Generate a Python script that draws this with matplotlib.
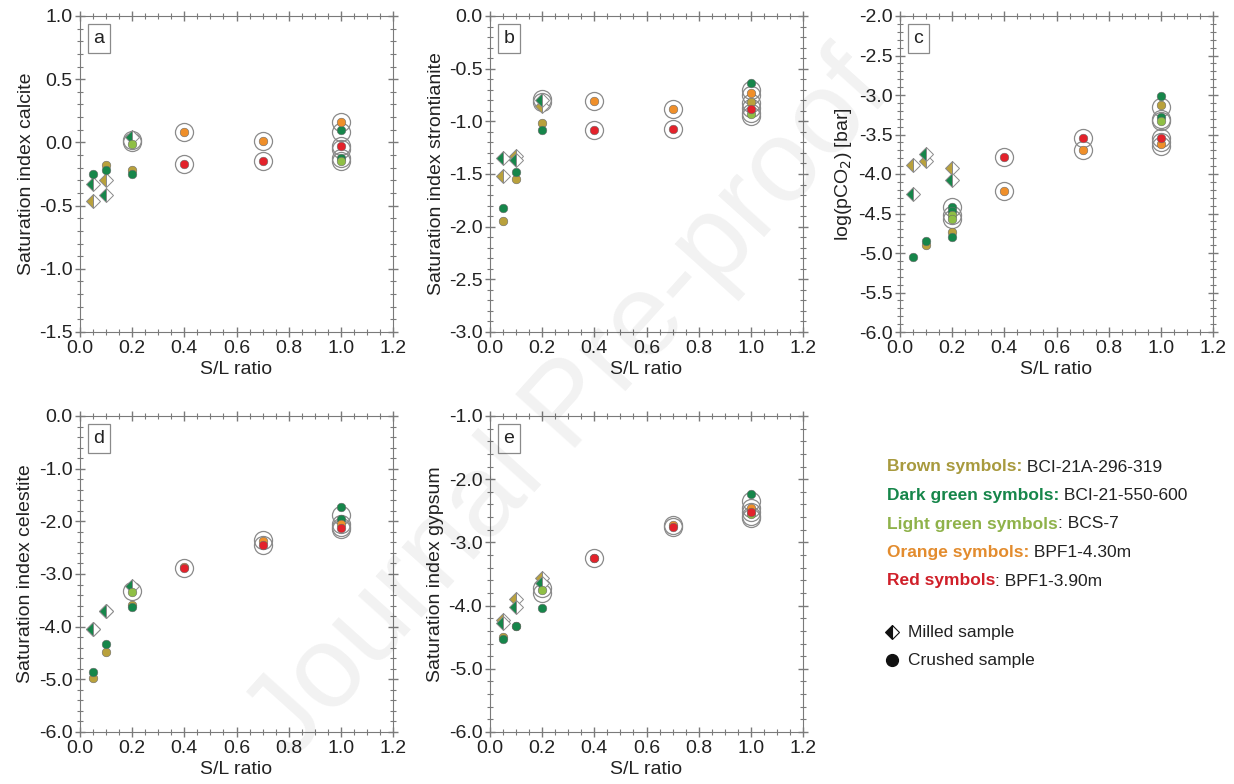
import matplotlib
matplotlib.use('Agg')
import matplotlib.pyplot as plt
from matplotlib.lines import Line2D
from matplotlib.ticker import MultipleLocator

plt.rcParams['font.family'] = ['Liberation Sans', 'DejaVu Sans']
plt.rcParams['axes.unicode_minus'] = False

colors = {
    'brown': '#b9a13c',
    'dgreen': '#16864a',
    'lgreen': '#8fbf45',
    'orange': '#ef8f2a',
    'red': '#e3222b',
}

# (S/L ratio, value, sample) -- crushed samples
calcite_crushed = [(0.1, -0.18, 'brown'), (0.2, -0.22, 'brown'),
                   (0.05, -0.25, 'dgreen'), (0.1, -0.22, 'dgreen'), (0.2, -0.25, 'dgreen'),
                   (1.0, 0.10, 'dgreen'), (1.0, -0.12, 'dgreen'),
                   (0.2, -0.01, 'lgreen'), (1.0, -0.15, 'lgreen'),
                   (0.4, 0.08, 'orange'), (0.7, 0.01, 'orange'), (1.0, 0.16, 'orange'),
                   (0.4, -0.17, 'red'), (0.7, -0.15, 'red'), (1.0, -0.03, 'red')]
calcite_milled = [(0.05, -0.46, 'brown'), (0.1, -0.30, 'brown'),
                  (0.05, -0.33, 'dgreen'), (0.1, -0.42, 'dgreen'), (0.2, 0.04, 'dgreen')]
calcite_rings = [(0.2, 0.0), (0.2, 0.02), (0.4, 0.08), (0.4, -0.17), (0.7, 0.01), (0.7, -0.15),
                 (1.0, 0.16), (1.0, 0.08), (1.0, -0.03), (1.0, -0.05), (1.0, -0.12), (1.0, -0.15)]

stront_crushed = [(0.05, -1.95, 'brown'), (0.1, -1.55, 'brown'), (0.2, -1.02, 'brown'),
                  (0.05, -1.82, 'dgreen'), (0.1, -1.48, 'dgreen'), (0.2, -1.08, 'dgreen'),
                  (1.0, -0.64, 'dgreen'), (1.0, -0.82, 'brown'),
                  (1.0, -0.93, 'lgreen'),
                  (0.4, -0.81, 'orange'), (0.7, -0.88, 'orange'), (1.0, -0.73, 'orange'),
                  (0.4, -1.08, 'red'), (0.7, -1.07, 'red'), (1.0, -0.88, 'red')]
stront_milled = [(0.05, -1.52, 'brown'), (0.1, -1.33, 'brown'), (0.2, -0.85, 'brown'),
                 (0.05, -1.35, 'dgreen'), (0.1, -1.37, 'dgreen'), (0.2, -0.80, 'dgreen')]
stront_rings = [(0.2, -0.79), (0.2, -0.82), (0.4, -0.81), (0.4, -1.08), (0.7, -0.88), (0.7, -1.07),
                (1.0, -0.70), (1.0, -0.75), (1.0, -0.83), (1.0, -0.87), (1.0, -0.92), (1.0, -0.95)]

pco2_crushed = [(0.1, -4.90, 'brown'), (0.2, -4.74, 'brown'), (1.0, -3.13, 'brown'),
                (0.05, -5.05, 'dgreen'), (0.1, -4.85, 'dgreen'), (0.2, -4.42, 'dgreen'),
                (0.2, -4.47, 'dgreen'), (0.2, -4.80, 'dgreen'), (1.0, -3.01, 'dgreen'), (1.0, -3.28, 'dgreen'),
                (0.2, -4.52, 'lgreen'), (0.2, -4.57, 'lgreen'), (1.0, -3.33, 'lgreen'),
                (0.4, -4.21, 'orange'), (0.7, -3.70, 'orange'), (1.0, -3.62, 'orange'),
                (0.4, -3.79, 'red'), (0.7, -3.54, 'red'), (1.0, -3.55, 'red')]
pco2_milled = [(0.05, -3.88, 'brown'), (0.1, -3.83, 'brown'), (0.2, -3.92, 'brown'),
               (0.05, -4.25, 'dgreen'), (0.1, -3.75, 'dgreen'), (0.2, -4.07, 'dgreen')]
pco2_rings = [(0.2, -4.42), (0.2, -4.52), (0.2, -4.57), (0.4, -3.79), (0.4, -4.21), (0.7, -3.54),
              (0.7, -3.70), (1.0, -3.15), (1.0, -3.30), (1.0, -3.33), (1.0, -3.55), (1.0, -3.60), (1.0, -3.65)]

celest_crushed = [(0.05, -4.97, 'brown'), (0.1, -4.48, 'brown'), (0.2, -3.58, 'brown'),
                  (0.05, -4.87, 'dgreen'), (0.1, -4.33, 'dgreen'), (0.2, -3.62, 'dgreen'),
                  (1.0, -1.72, 'dgreen'), (1.0, -1.95, 'dgreen'),
                  (0.2, -3.35, 'lgreen'),
                  (0.4, -2.87, 'orange'), (0.7, -2.38, 'orange'), (1.0, -2.05, 'orange'),
                  (0.4, -2.88, 'red'), (0.7, -2.45, 'red'), (1.0, -2.13, 'red')]
celest_milled = [(0.05, -4.05, 'brown'), (0.1, -3.70, 'brown'),
                 (0.05, -4.05, 'dgreen'), (0.1, -3.70, 'dgreen'), (0.2, -3.22, 'dgreen')]
celest_rings = [(0.2, -3.32), (0.4, -2.88), (0.7, -2.35), (0.7, -2.45),
                (1.0, -1.88), (1.0, -2.05), (1.0, -2.10), (1.0, -2.15)]

gypsum_crushed = [(0.05, -4.50, 'brown'), (0.1, -4.33, 'brown'),
                  (0.05, -4.53, 'dgreen'), (0.1, -4.32, 'dgreen'), (0.2, -4.04, 'dgreen'),
                  (1.0, -2.23, 'dgreen'),
                  (0.2, -3.76, 'lgreen'), (1.0, -2.55, 'lgreen'),
                  (0.4, -3.24, 'orange'), (0.7, -2.72, 'orange'), (1.0, -2.45, 'orange'),
                  (0.4, -3.25, 'red'), (0.7, -2.76, 'red'), (1.0, -2.52, 'red')]
gypsum_milled = [(0.05, -4.22, 'brown'), (0.1, -3.90, 'brown'), (0.2, -3.57, 'brown'),
                 (0.05, -4.28, 'dgreen'), (0.1, -4.02, 'dgreen'), (0.2, -3.65, 'dgreen')]
gypsum_rings = [(0.2, -3.72), (0.2, -3.80), (0.4, -3.24), (0.7, -2.72), (0.7, -2.76),
                (1.0, -2.35), (1.0, -2.45), (1.0, -2.52), (1.0, -2.58), (1.0, -2.62)]

# coloured heading, sample name, heading colour
legend_rows = [('Brown symbols:', ' BCI-21A-296-319', '#a89a3e'),
               ('Dark green symbols:', ' BCI-21-550-600', '#16864a'),
               ('Light green symbols', ': BCS-7', '#8fb24a'),
               ('Orange symbols:', ' BPF1-4.30m', '#e38c2e'),
               ('Red symbols', ': BPF1-3.90m', '#d0202a')]

# letter, ylabel, ylim, major, minor, data, axes position in pixels (left, top)
panels = [
    ('a', 'Saturation index calcite', (-1.5, 1.0), 0.5, 0.1,
     calcite_crushed, calcite_milled, calcite_rings, (80, 16)),
    ('b', 'Saturation index strontianite', (-3.0, 0.0), 0.5, 0.1,
     stront_crushed, stront_milled, stront_rings, (490, 16)),
    ('c', 'log(pCO$_2$) [bar]', (-6.0, -2.0), 0.5, 0.1,
     pco2_crushed, pco2_milled, pco2_rings, (900, 16)),
    ('d', 'Saturation index celestite', (-6.0, 0.0), 1.0, 0.2,
     celest_crushed, celest_milled, celest_rings, (80, 416)),
    ('e', 'Saturation index gypsum', (-6.0, -1.0), 1.0, 0.2,
     gypsum_crushed, gypsum_milled, gypsum_rings, (490, 416)),
]

W, H = 1234, 784
fig = plt.figure(figsize=(W / 100, H / 100), dpi=100)
spine_col = '#7a7a7a'
text_col = '#222222'

for letter, ylabel, ylim, major, minor, crushed, milled, rings, (px, py) in panels:
    ax = fig.add_axes([px / W, 1 - (py + 316) / H, 313 / W, 316 / H])
    ax.set_xlim(0, 1.2)
    ax.set_ylim(*ylim)
    ax.xaxis.set_major_locator(MultipleLocator(0.2))
    ax.xaxis.set_minor_locator(MultipleLocator(0.05))
    ax.yaxis.set_major_locator(MultipleLocator(major))
    ax.yaxis.set_minor_locator(MultipleLocator(minor))
    ax.xaxis.set_major_formatter('{x:.1f}')
    ax.yaxis.set_major_formatter('{x:.1f}')
    ax.tick_params(which='both', direction='inout', top=True, right=True,
                   color=spine_col, labelsize=14, labelcolor=text_col, pad=2)
    ax.tick_params(which='major', length=7, width=1)
    ax.tick_params(which='minor', length=4, width=0.8)
    for s in ax.spines.values():
        s.set_color(spine_col)
    ax.set_xlabel('S/L ratio', fontsize=14, labelpad=3, color=text_col)
    ax.set_ylabel(ylabel, fontsize=14, labelpad=3, color=text_col)

    for x, y in rings:
        ax.plot(x, y, 'o', ms=13, mfc='none', mec='#8a8a8a', mew=0.9, zorder=2)
    for x, y, c in milled:
        ax.plot(x, y, 'D', ms=7, fillstyle='left', mfc=colors[c], mfcalt='white',
                mec='#8a8a8a', mew=0.7, zorder=3)
    for x, y, c in crushed:
        ax.plot(x, y, 'o', ms=6.2, mfc=colors[c], mec='#6a6a6a', mew=0.4, zorder=4)

    ax.text(0.043, 0.955, letter, transform=ax.transAxes, fontsize=14,
            ha='left', va='top', color=text_col,
            bbox=dict(boxstyle='square,pad=0.3', fc='white', ec='#8a8a8a', lw=0.9))

# sample legend: bold coloured heading followed by the sample name
for i, (head, tail, col) in enumerate(legend_rows):
    y = 1 - (467 + i * 28.5) / H
    t = fig.text(887 / W, y, head, color=col, fontsize=12.5, fontweight='bold', va='center')
    fig.axes[0].annotate(tail, xy=(1, 0.5), xycoords=t, va='center', ha='left',
                         fontsize=12.5, color=text_col, annotation_clip=False)

fig.add_artist(Line2D([892 / W], [1 - 632 / H], marker='D', ms=7, fillstyle='left',
                      mfc='#111111', mfcalt='white', mec='#111111', mew=0.8,
                      transform=fig.transFigure))
fig.add_artist(Line2D([892 / W], [1 - 660 / H], marker='o', ms=8.5, mfc='#111111',
                      mec='#111111', transform=fig.transFigure))
fig.text(908 / W, 1 - 632 / H, 'Milled sample', fontsize=12.5, va='center', color=text_col)
fig.text(908 / W, 1 - 660 / H, 'Crushed sample', fontsize=12.5, va='center', color=text_col)

fig.text(0.462, 0.48, 'Journal Pre-proof', fontsize=84, rotation=48, color='black',
         alpha=0.055, ha='center', va='center', rotation_mode='anchor')

fig.savefig('out.png', dpi=100)
